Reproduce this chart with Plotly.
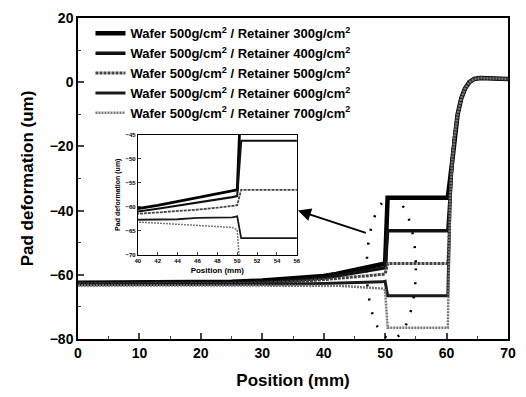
import plotly.graph_objects as go

# ---------------- data ----------------
retainer = [300, 400, 500, 600, 700]
x_left = [0, 10, 20, 25, 30, 35, 40, 42, 44, 46, 48, 49.5, 50.0]
y_left = {
    300: [-62.5, -62.5, -62.4, -62.2, -61.8, -61.2, -60.4, -59.7, -58.9, -58.1, -57.3, -56.7, -56.5],
    400: [-62.7, -62.7, -62.6, -62.5, -62.3, -61.8, -61.0, -60.4, -59.8, -59.1, -58.5, -58.0, -57.8],
    500: [-62.9, -62.9, -62.8, -62.8, -62.6, -62.2, -61.5, -61.2, -60.9, -60.6, -60.2, -59.9, -59.7],
    600: [-63.1, -63.1, -63.1, -63.0, -63.0, -62.9, -62.7, -62.6, -62.6, -62.3, -62.3, -62.2, -62.0],
    700: [-63.3, -63.3, -63.3, -63.3, -63.3, -63.3, -63.2, -63.4, -63.6, -63.8, -64.1, -64.3, -64.8],
}
step_level = {300: -36.0, 400: -46.3, 500: -56.5, 600: -66.5, 700: -76.5}
x_step = [50.4, 60.2]
x_rise = [60.4, 60.6, 60.9, 61.3, 61.8, 62.4, 63.0, 63.7, 64.5, 65.5, 70.0]
y_rise = [-50.0, -35.0, -25.0, -17.0, -10.0, -5.0, -2.0, 0.0, 1.0, 1.3, 1.0]

styles = {
    300: dict(color="#000000", width=4.5),
    400: dict(color="#111111", width=3.5),
    500: dict(color="#444444", width=3, dash="3px,1px"),
    600: dict(color="#1a1a1a", width=3),
    700: dict(color="#777777", width=2.5, dash="2px,1px"),
}


def series(r):
    xs = list(x_left) + list(x_step)
    ys = list(y_left[r]) + [step_level[r]] * len(x_step)
    for xr, yr in zip(x_rise, y_rise):
        if yr > step_level[r] + 3:
            xs.append(xr)
            ys.append(yr)
    return xs, ys


fig = go.Figure()
for r in retainer:
    xs, ys = series(r)
    fig.add_trace(go.Scatter(
        x=xs, y=ys, mode="lines", line=styles[r],
        name=f"Wafer 500g/cm<sup>2</sup> / Retainer {r}g/cm<sup>2</sup>",
        xaxis="x", yaxis="y"))
for r in retainer:
    xs, ys = series(r)
    fig.add_trace(go.Scatter(
        x=xs, y=ys, mode="lines", line=dict(styles[r], width=styles[r]["width"] * 0.6),
        showlegend=False, xaxis="x2", yaxis="y2", cliponaxis=True))

fnt = "Liberation Sans"
axis_common = dict(showline=True, linecolor="black", mirror=True, ticks="inside",
                   zeroline=False, showgrid=False)

fig.update_layout(
    width=526, height=397,
    margin=dict(l=78, r=10, t=15, b=57),
    paper_bgcolor="white", plot_bgcolor="white",
    font=dict(family=fnt, color="black"),
    xaxis=dict(axis_common, range=[0, 70], dtick=10, linewidth=1.5, ticklen=6, tickwidth=1.5,
               minor=dict(ticks="inside", dtick=5, ticklen=3, tickwidth=1.2),
               tickfont=dict(size=14, family=fnt, weight="bold"),
               title=dict(text="<b>Position (mm)</b>", font=dict(size=17), standoff=15)),
    yaxis=dict(axis_common, range=[-80, 20], dtick=20, linewidth=1.5, ticklen=6, tickwidth=1.5,
               minor=dict(ticks="inside", dtick=10, ticklen=3, tickwidth=1.2),
               tickfont=dict(size=14, family=fnt, weight="bold"),
               title=dict(text="<b>Pad deformation (um)</b>", font=dict(size=17), standoff=12)),
    xaxis2=dict(axis_common, domain=[0.139, 0.509], anchor="y2", range=[40, 56], dtick=2,
                linewidth=1, ticklen=3, tickwidth=1,
                tickfont=dict(size=6, family=fnt, weight="bold"),
                title=dict(text="<b>Position (mm)</b>", font=dict(size=8), standoff=4)),
    yaxis2=dict(axis_common, domain=[0.262, 0.637], anchor="x2", range=[-70, -45], dtick=5,
                linewidth=1, ticklen=3, tickwidth=1,
                tickfont=dict(size=6, family=fnt, weight="bold"),
                title=dict(text="<b>Pad deformation (um)</b>", font=dict(size=7), standoff=3)),
    legend=dict(x=0.029, y=0.999, xanchor="left", yanchor="top", bgcolor="rgba(0,0,0,0)",
                font=dict(size=13, family=fnt, weight="bold"), tracegroupgap=0),
    showlegend=True,
)

# dotted ellipse marking the step region
fig.add_shape(type="circle", xref="x", yref="y", x0=47.0, x1=55.0, y0=-80, y1=-36,
              line=dict(color="black", width=2.5, dash="2px,12px"))
# arrow pointing to the inset
fig.add_annotation(x=35.8, y=-40, ax=47.1, ay=-47.1, xref="x", yref="y", axref="x", ayref="y",
                   showarrow=True, arrowhead=2, arrowsize=1.3, arrowwidth=2, arrowcolor="black", text="")

fig.write_html("out.html")
